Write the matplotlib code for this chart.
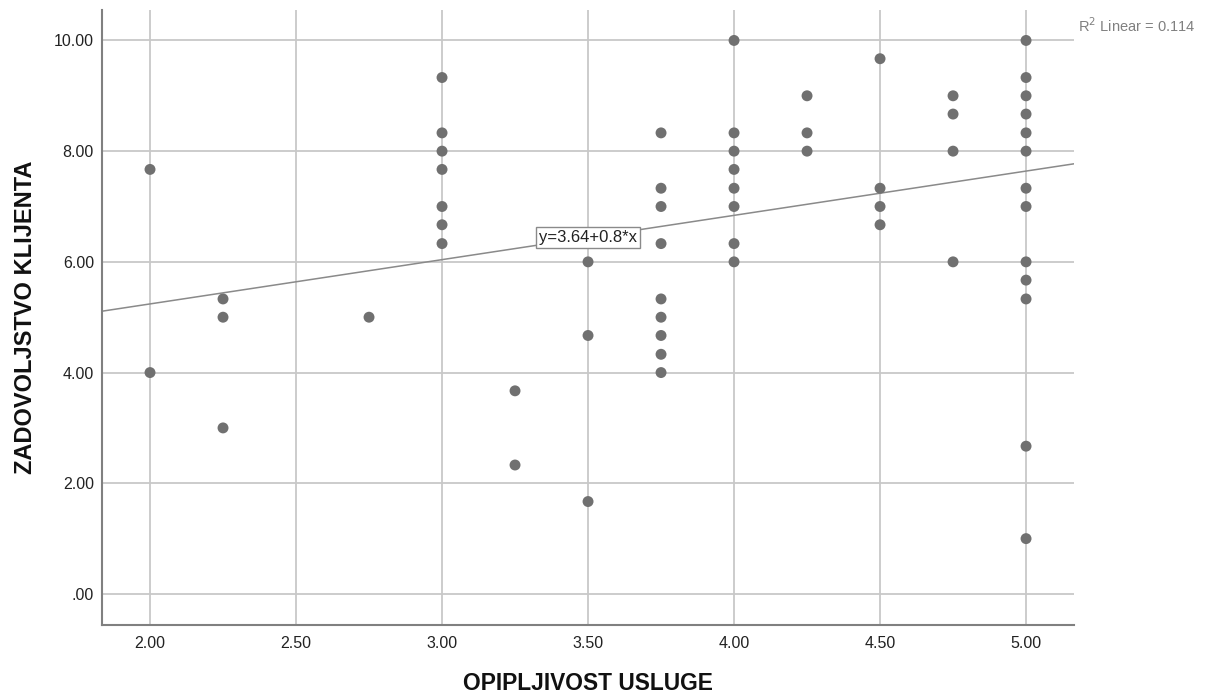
import numpy as np
import matplotlib
matplotlib.use("Agg")
import matplotlib.pyplot as plt

plt.rcParams['font.family'] = ['Liberation Sans', 'DejaVu Sans']

# ========================
# DATA
# ========================
opipljivost = [2.00, 2.00,
               2.25, 2.25, 2.25,
               2.75,
               3.00, 3.00, 3.00, 3.00, 3.00, 3.00, 3.00,
               3.25, 3.25,
               3.50, 3.50, 3.50,
               3.75, 3.75, 3.75, 3.75, 3.75, 3.75, 3.75, 3.75, 3.75,
               4.00, 4.00, 4.00, 4.00, 4.00, 4.00, 4.00, 4.00,
               4.25, 4.25, 4.25,
               4.50, 4.50, 4.50, 4.50,
               4.75, 4.75, 4.75, 4.75,
               5.00, 5.00, 5.00, 5.00, 5.00, 5.00, 5.00, 5.00, 5.00, 5.00, 5.00, 5.00, 5.00]
zadovoljstvo = [7.67, 4.00,
                5.33, 5.00, 3.00,
                5.00,
                9.33, 8.33, 8.00, 7.67, 7.00, 6.67, 6.33,
                3.67, 2.33,
                6.00, 4.67, 1.67,
                8.33, 7.33, 7.00, 6.33, 5.33, 5.00, 4.67, 4.33, 4.00,
                10.00, 8.33, 8.00, 7.67, 7.33, 7.00, 6.33, 6.00,
                9.00, 8.33, 8.00,
                9.67, 7.33, 7.00, 6.67,
                9.00, 8.67, 8.00, 6.00,
                10.00, 9.33, 9.00, 8.67, 8.33, 8.00, 7.33, 7.00, 6.00, 5.67, 5.33, 2.67, 1.00]

intercept = 3.64
slope = 0.8
r2 = 0.114

x_ticks = [2.0, 2.5, 3.0, 3.5, 4.0, 4.5, 5.0]
y_ticks = [0, 2, 4, 6, 8, 10]

# ========================
# FIGURE
# ========================
fig = plt.figure(figsize=(12.06, 6.99), dpi=100)
ax = fig.add_axes([0.0842, 0.1059, 0.8063, 0.8798])

xmin, xmax = 1.834, 5.164
ax.set_xlim(xmin, xmax)
ax.set_ylim(-0.56, 10.55)

ax.set_xticks(x_ticks)
ax.set_xticklabels([f"{t:.2f}" for t in x_ticks])
ax.set_yticks(y_ticks)
ax.set_yticklabels([".00" if t == 0 else f"{t:.2f}" for t in y_ticks])
ax.tick_params(length=0, labelsize=11.5, colors='#222222')
ax.tick_params(axis='x', pad=8)
ax.tick_params(axis='y', pad=5.5)

ax.grid(True, color='#c8c8c8', lw=1.3)
ax.set_axisbelow(True)
for s in ['top', 'right']:
    ax.spines[s].set_visible(False)
for s in ['left', 'bottom']:
    ax.spines[s].set_color('#808080')
    ax.spines[s].set_linewidth(1.5)

ax.scatter(opipljivost, zadovoljstvo, s=62, color='#707070', edgecolors='none', zorder=3)

# fit line
xl = np.array([xmin, xmax])
ax.plot(xl, intercept + slope * xl, color='#8a8a8a', lw=1.1, zorder=2)
ax.text(3.5, intercept + slope * 3.5, f"y={intercept}+{slope}*x", fontsize=12,
        ha='center', va='center', color='#222222', zorder=4,
        bbox=dict(boxstyle='square,pad=0.2', fc='white', ec='#8a8a8a', lw=1))

fig.text(0.9909, 0.964, f"R$^2$ Linear = {r2}", ha='right', va='center',
         fontsize=10.5, color='#808080')

ax.set_xlabel("OPIPLJIVOST USLUGE", fontsize=16.4, fontweight='bold',
              labelpad=15, color='#111111')
ax.set_ylabel("ZADOVOLJSTVO KLIJENTA", fontsize=17, fontweight='bold',
              labelpad=12, color='#111111')

fig.savefig("out.png", dpi=100)
